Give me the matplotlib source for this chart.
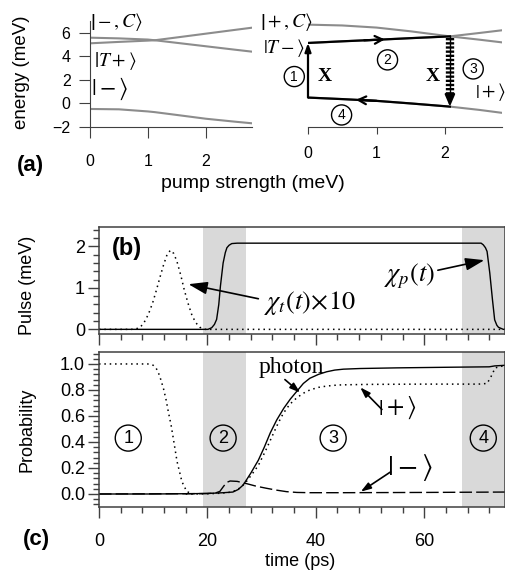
import numpy as np
import matplotlib
matplotlib.use("Agg")
import matplotlib.pyplot as plt

plt.rcParams['font.family'] = ['Liberation Sans', 'DejaVu Sans']
plt.rcParams['mathtext.fontset'] = 'stix'

# ---- panel (a) data: energy levels vs pump strength (meV) ----
pump_l = [0, 0.5, 1.0, 1.12, 1.5, 2.0, 2.5, 2.8]
lvl_a = [5.58, 5.52, 5.42, 5.36, 5.60, 5.92, 6.24, 6.43]
lvl_b = [5.10, 5.22, 5.33, 5.36, 5.14, 4.85, 4.56, 4.39]
lvl_minus = [-0.49, -0.52, -0.70, -0.76, -1.00, -1.32, -1.57, -1.71]

pump_r = [0, 0.5, 1.0, 1.5, 2.07, 2.5, 2.83]
lvl_plusC = [6.69, 6.62, 6.44, 6.12, 5.69, 5.41, 5.18]
lvl_Tminus = [5.13, 5.27, 5.40, 5.54, 5.69, 5.98, 6.21]
lvl_plus = [0.48, 0.35, 0.20, -0.02, -0.29, -0.57, -0.82]

# ---- panel (b) data: pulses (meV) vs time (ps) ----
t_p = [0, 20.1, 20.8, 21.3, 21.7, 22.1, 22.4, 22.9, 23.3, 23.6, 24.0, 24.5, 25.5,
       70.5, 70.9, 71.3, 71.6, 72.1, 72.6, 73.0, 73.4, 73.7, 74.6, 75]
chi_p = [0, 0, 0.04, 0.12, 0.24, 0.60, 1.04, 1.60, 1.85, 1.97, 2.03, 2.07, 2.08,
         2.08, 2.04, 1.97, 1.88, 1.36, 0.71, 0.23, 0.10, 0.05, 0.0, 0.0]
t_t = [0, 6.0, 7.0, 7.6, 8.3, 9.1, 9.9, 10.6, 11.3, 11.9, 12.6, 13.2, 13.8, 14.4,
       15.1, 15.7, 16.4, 17.1, 17.8, 18.6, 19.6, 75]
chi_t = [0, 0, 0.02, 0.05, 0.16, 0.36, 0.64, 0.95, 1.28, 1.55, 1.82, 1.91, 1.83, 1.63,
         1.30, 0.97, 0.64, 0.36, 0.17, 0.05, 0.0, 0.0]

# ---- panel (c) data: probabilities vs time (ps) ----
t_ph = [0, 10, 18, 21, 23, 24.7, 25.7, 26.6, 28, 29.4, 30.5, 31.6, 32.8, 34.1, 35.3,
        36.5, 37.7, 38.9, 40.5, 42, 43.5, 45.1, 48.2, 55, 65, 72, 73, 75]
photon = [0, 0, 0.003, 0.006, 0.01, 0.015, 0.035, 0.069, 0.16, 0.26, 0.36, 0.47, 0.57,
          0.66, 0.73, 0.79, 0.85, 0.89, 0.92, 0.94, 0.953, 0.96, 0.965, 0.97, 0.975,
          0.978, 0.985, 0.99]
t_init = [0, 9, 10, 10.5, 10.9, 11.4, 11.9, 12.4, 12.8, 13.3, 13.7, 14.4, 15.3, 16.2, 17.4]
p_init = [1.0, 1.0, 0.99, 0.97, 0.94, 0.88, 0.81, 0.72, 0.63, 0.53, 0.43, 0.25, 0.095,
          0.018, 0.0]
t_plus = [16, 20, 22, 24, 25.5, 26.9, 28.2, 29.4, 30.7, 31.9, 33, 34, 35.2, 36.5, 37.7,
          38.9, 40.5, 42, 44, 45.7, 50, 60, 70, 71.6, 72.3, 73.1, 75]
p_plus = [0, 0.002, 0.005, 0.012, 0.03, 0.08, 0.15, 0.22, 0.33, 0.44, 0.54, 0.62, 0.69,
          0.74, 0.775, 0.80, 0.82, 0.83, 0.838, 0.84, 0.843, 0.845, 0.845, 0.85, 0.90,
          0.97, 0.99]
t_minus = [0, 20, 21.5, 22.3, 23.0, 23.6, 24.2, 25.5, 27.2, 29, 30.9, 32.7, 34.6, 36.5,
           38.9, 45, 60, 75]
p_minus = [0, 0.003, 0.008, 0.02, 0.06, 0.09, 0.10, 0.097, 0.08, 0.06, 0.044, 0.03,
           0.018, 0.012, 0.01, 0.01, 0.012, 0.015]

stages = [(19.2, 27.1), (67.0, 75.0)]
stage_x = [5.4, 22.9, 43.2, 70.9]
digits = ['1', '2', '3', '4']

W, H = 506, 571
fig = plt.figure(figsize=(W / 100, H / 100), dpi=100)
gray = '#8c8c8c'
spc = '#404040'

def box(x0, y0, x1, y1):
    return [x0 / W, 1 - y1 / H, (x1 - x0) / W, (y1 - y0) / H]

def circled(ax, x, y, s, size, pad):
    ax.text(x, y, s, fontsize=size, ha='center', va='center', clip_on=False,
            bbox=dict(boxstyle='circle,pad=%.2f' % pad, fc='none', ec='k', lw=1.0))

# ---------- panel (a) ----------
ax_l = fig.add_axes(box(90, 21, 252, 126.7))
ax_r = fig.add_axes(box(308, 21, 502, 126.7))
for ax in (ax_l, ax_r):
    ax.set_ylim(-2, 7)
    ax.spines['top'].set_visible(False)
    ax.spines['right'].set_visible(False)
    ax.set_xticks([0, 1, 2])
    ax.tick_params(labelsize=11.5, color=spc)
    ax.spines['bottom'].set_color(spc)
    ax.spines['left'].set_color(spc)
ax_l.set_xlim(0, 2.8)
ax_r.set_xlim(0, 2.83)
ax_l.set_yticks([-2, 0, 2, 4, 6])
ax_l.tick_params(axis='x', length=8, pad=12)
ax_l.tick_params(axis='y', length=8, pad=6)
ax_r.spines['left'].set_visible(False)
ax_r.set_yticks([])
ax_r.tick_params(axis='x', length=5, pad=9)

for lv in (lvl_a, lvl_b, lvl_minus):
    ax_l.plot(pump_l, lv, color=gray, lw=1.5)
for lv in (lvl_plusC, lvl_Tminus, lvl_plus):
    ax_r.plot(pump_r, lv, color=gray, lw=1.5)

# cycle path
ax_r.plot(pump_r[:5], lvl_Tminus[:5], color='k', lw=1.6)
ax_r.plot(pump_r[:5], lvl_plus[:5], color='k', lw=1.6)
ax_r.annotate('', xy=(0, lvl_Tminus[0]), xytext=(0, lvl_plus[0]),
              arrowprops=dict(arrowstyle='-|>,head_length=0.5,head_width=0.18',
                              color='k', lw=1.6, shrinkA=0, shrinkB=0))
xa = 1.12
ax_r.annotate('', xy=(xa, np.interp(xa, pump_r, lvl_Tminus)),
              xytext=(xa - 0.3, np.interp(xa - 0.3, pump_r, lvl_Tminus)),
              arrowprops=dict(arrowstyle='->,head_length=0.55,head_width=0.28',
                              color='k', lw=1.6, shrinkA=0, shrinkB=0))
xb = 0.7
ax_r.annotate('', xy=(xb, np.interp(xb, pump_r, lvl_plus)),
              xytext=(xb + 0.3, np.interp(xb + 0.3, pump_r, lvl_plus)),
              arrowprops=dict(arrowstyle='->,head_length=0.55,head_width=0.28',
                              color='k', lw=1.6, shrinkA=0, shrinkB=0))
xw = pump_r[4]
ax_r.plot([xw, xw], [lvl_Tminus[4], lvl_plus[4] + 0.9], color='k', lw=1.0)
ax_r.plot([xw, xw], [lvl_Tminus[4] - 0.1, lvl_plus[4] + 0.9], color='k', lw=6,
          linestyle=(0, (0.28, 0.22)), solid_capstyle='butt', dash_capstyle='butt')
ax_r.annotate('', xy=(xw, lvl_plus[4]), xytext=(xw, lvl_plus[4] + 1.0),
              arrowprops=dict(arrowstyle='-|>,head_length=0.7,head_width=0.3',
                              color='k', lw=1.6, shrinkA=0, shrinkB=0))

kw = dict(ha='center', va='center', clip_on=False)
ax_l.text(0.45, 6.94, r'$\left|-,C\right\rangle$', fontsize=14, **kw)
ax_l.text(0.43, 3.6, r'$\left|T+\right\rangle$', fontsize=14, **kw)
ax_l.text(0.34, 1.22, r'$|-\rangle$', fontsize=17, **kw)
ax_r.text(-0.32, 6.92, r'$\left|+,C\right\rangle$', fontsize=14, **kw)
ax_r.text(-0.35, 4.7, r'$\left|T-\right\rangle$', fontsize=14, **kw)
ax_r.text(2.66, 0.99, r'$\left|+\right\rangle$', fontsize=14, **kw)
ax_r.text(0.24, 2.27, 'X', fontsize=14, fontweight='bold', family='Liberation Serif', **kw)
ax_r.text(1.82, 2.3, 'X', fontsize=14, fontweight='bold', family='Liberation Serif', **kw)
for (x, y), s in zip([(-0.2, 2.27), (1.16, 3.69), (2.41, 2.92), (0.49, -1.0)], digits):
    circled(ax_r, x, y, s, 10, 0.22)

fig.text(253 / W, 1 - 183 / H, 'pump strength (meV)', fontsize=14, ha='center', va='center')
fig.text(22 / W, 1 - 72 / H, 'energy (meV)', fontsize=13.5, rotation=90, ha='center', va='center')
fig.text(30 / W, 1 - 166 / H, '(a)', fontsize=16, fontweight='bold', ha='center', va='center')

# ---------- panels (b) and (c) ----------
ax_b = fig.add_axes(box(99, 227, 505.5, 333.5))
ax_c = fig.add_axes(box(99, 352, 505.5, 507))
for ax in (ax_b, ax_c):
    ax.set_xlim(0, 75)
    for (a, b) in stages:
        ax.axvspan(a, b, color='#d9d9d9', lw=0, zorder=0)
    for sp in ax.spines.values():
        sp.set_color(spc)
        sp.set_linewidth(1.1)
    ax.set_xticks([0, 20, 40, 60])
    ax.set_xticks(np.arange(0, 76, 4), minor=True)
    ax.tick_params(which='major', length=8, width=1, color=spc, labelsize=13)
    ax.tick_params(which='minor', length=4.5, width=1, color=spc)
    ax.tick_params(axis='y', pad=2)
    ax.tick_params(axis='x', pad=11)

ax_b.set_ylim(-0.1, 2.47)
ax_b.set_yticks([0, 1, 2])
ax_b.set_yticks(np.arange(0, 2.5, 0.2), minor=True)
ax_b.set_xticklabels([])
ax_b.plot(t_p, chi_p, color='k', lw=1.0)
ax_b.plot(t_t, chi_t, color='k', lw=1.1, linestyle=(0, (1, 2.5)))
ax_b.text(5.1, 1.96, '(b)', fontsize=17, fontweight='bold', ha='center', va='center')
ax_b.annotate(r'$\chi_t(t)\!\times\!10$', xy=(16.5, 1.09), xytext=(38.9, 0.63),
              fontsize=19, ha='center', va='center',
              arrowprops=dict(arrowstyle='-|>,head_length=0.6,head_width=0.2',
                              color='k', lw=1.2, shrinkA=2, shrinkB=0,
                              relpos=(0, 0.62)))
ax_b.annotate(r'$\chi_p(t)$', xy=(71.1, 1.67), xytext=(57.3, 1.27),
              fontsize=19, ha='center', va='center',
              arrowprops=dict(arrowstyle='-|>,head_length=0.6,head_width=0.2',
                              color='k', lw=1.2, shrinkA=0, shrinkB=0,
                              relpos=(1.0, 0.7)))
ax_b.set_ylabel('Pulse (meV)', fontsize=13)
ax_b.yaxis.set_label_coords(-0.155, 0.45)

ax_c.set_ylim(-0.1, 1.092)
ax_c.set_yticks(np.arange(0, 1.01, 0.2))
ax_c.set_yticks(np.arange(-0.08, 1.09, 0.04), minor=True)
ax_c.yaxis.set_major_formatter(matplotlib.ticker.FormatStrFormatter('%.1f'))
ax_c.plot(t_ph, photon, color='k', lw=1.0)
ax_c.plot(t_init, p_init, color='k', lw=1.1, linestyle=(0, (1, 2.5)))
ax_c.plot(t_plus, p_plus, color='k', lw=1.1, linestyle=(0, (1, 2.5)))
ax_c.plot(t_minus, p_minus, color='k', lw=1.0, linestyle=(0, (9, 3)))
for x, s in zip(stage_x, digits):
    circled(ax_c, x, 0.43, s, 13, 0.25)
arr = dict(arrowstyle='-|>,head_length=0.6,head_width=0.2', color='k', lw=1.2,
           shrinkA=0, shrinkB=0)
ax_c.text(35.4, 0.97, 'photon', fontsize=17, family='Liberation Serif',
          ha='center', va='center')
ax_c.annotate('', xy=(37.1, 0.78), xytext=(34.3, 0.88), arrowprops=arr)
ax_c.text(55.1, 0.665, r'$\left|+\right\rangle$', fontsize=18, ha='center', va='center')
ax_c.annotate('', xy=(48.2, 0.82), xytext=(52.2, 0.65), arrowprops=arr)
ax_c.text(57.4, 0.2, r'$|-\rangle$', fontsize=21, ha='center', va='center')
ax_c.annotate('', xy=(48.3, 0.018), xytext=(53.8, 0.17), arrowprops=arr)
ax_c.set_ylabel('Probability', fontsize=13)
ax_c.yaxis.set_label_coords(-0.155, 0.5)
fig.text(300 / W, 1 - 561 / H, 'time (ps)', fontsize=13, ha='center', va='center')
fig.text(36 / W, 1 - 539 / H, '(c)', fontsize=16, fontweight='bold', ha='center', va='center')

fig.savefig('out.png', dpi=100)
